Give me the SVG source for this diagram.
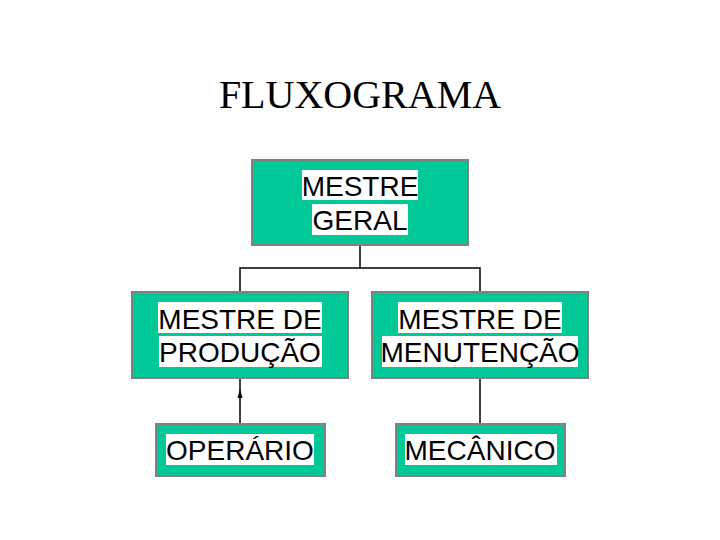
<svg xmlns="http://www.w3.org/2000/svg" width="720" height="540" viewBox="0 0 720 540">
<style>
.box{fill:#00c896;stroke:#808080;stroke-width:2}
.hl{fill:#fff}
.t{font-family:"Liberation Sans",Arial,sans-serif;font-size:28px;fill:#000;text-anchor:middle}
.c{fill:none;stroke:#000;stroke-width:1.5}
</style>
<defs><marker id="a" markerWidth="6" markerHeight="8" refX="3" refY="4" orient="auto"><path d="M0,8 L3,0 L6,8 Z" fill="#000" transform="rotate(90 3 4)"/></marker></defs>
<rect width="720" height="540" fill="#fff"/>
<text x="360" y="108" font-family="'Liberation Serif','Times New Roman',serif" font-size="40" text-anchor="middle">FLUXOGRAMA</text>
<g id="connectors">
<path class="c" d="M360,245 V268 M240,292 V268 H480 V292 M480,378 V424"/>
<path class="c" d="M240,424 V378"/>
<path d="M237.5,398 L240,389 L242.5,398 Z" fill="#000"/>
</g>
<g id="geral"><rect class="box" x="252" y="160" width="216" height="85"/>
<rect class="hl" x="302" y="170" width="116" height="30"/><rect class="hl" x="312" y="204" width="96" height="31"/>
<text class="t" x="360" y="196">MESTRE</text><text class="t" x="360" y="230">GERAL</text></g>
<g id="producao"><rect class="box" x="132" y="292" width="216" height="86"/>
<rect class="hl" x="158" y="302" width="164" height="31"/><rect class="hl" x="159" y="336" width="163" height="31"/>
<text class="t" x="240" y="329">MESTRE DE</text><text class="t" x="240" y="362">PRODUÇÃO</text></g>
<g id="manutencao"><rect class="box" x="372" y="292" width="216" height="86"/>
<rect class="hl" x="398" y="302" width="164" height="31"/><rect class="hl" x="382" y="336" width="196" height="31"/>
<text class="t" x="480" y="329">MESTRE DE</text><text class="t" x="480" y="362">MENUTENÇÃO</text></g>
<g id="operario"><rect class="box" x="156" y="424" width="169" height="52"/>
<rect class="hl" x="166" y="434" width="148" height="31"/>
<text class="t" x="240" y="460">OPERÁRIO</text></g>
<g id="mecanico"><rect class="box" x="396" y="424" width="169" height="52"/>
<rect class="hl" x="405" y="434" width="152" height="31"/>
<text class="t" x="480" y="460">MECÂNICO</text></g>
</svg>
